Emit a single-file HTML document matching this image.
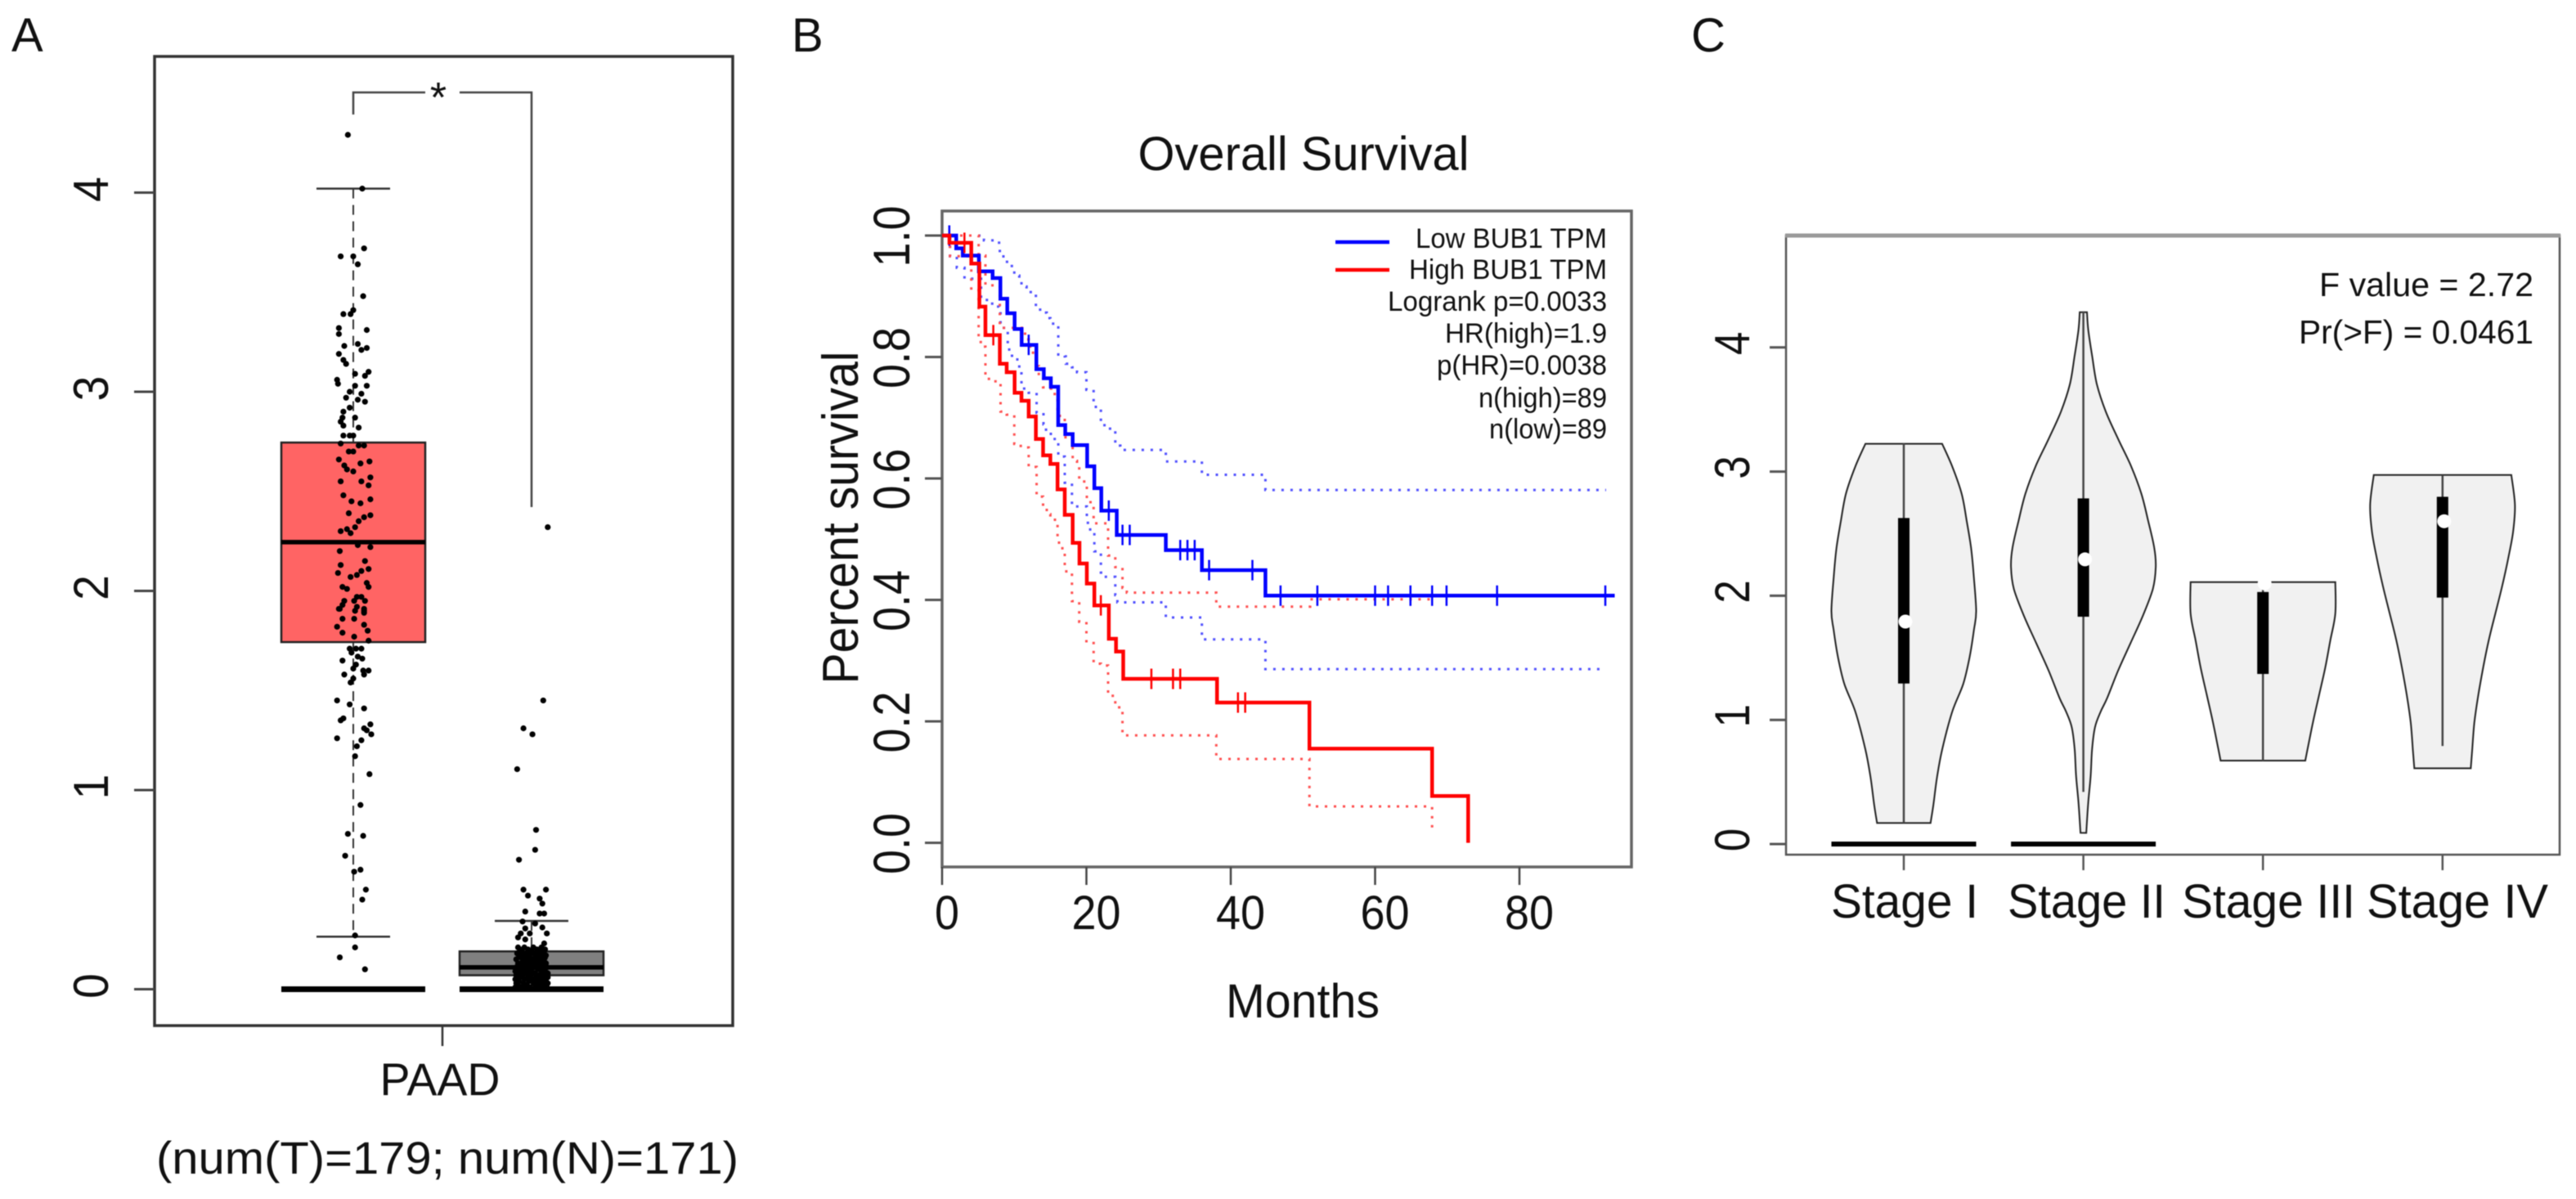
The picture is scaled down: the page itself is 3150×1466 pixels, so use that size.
<!DOCTYPE html>
<html lang="en">
<head>
<meta charset="utf-8">
<title>PAAD BUB1 expression, survival and stage plots</title>
<style>
  html, body { margin: 0; padding: 0; background: #fff; }
  svg { display: block; filter: blur(0.6px); }
  text { font-family: "Liberation Sans", sans-serif; fill: #111; }
</style>
</head>
<body>
<svg id="figure" xmlns="http://www.w3.org/2000/svg" width="3150" height="1466" viewBox="0 0 3150 1466">
  <rect x="0" y="0" width="3150" height="1466" fill="#fff"/>
  <text x="14" y="63" font-size="58">A</text>
  <text x="968" y="63" font-size="58">B</text>
  <text x="2068" y="63" font-size="58">C</text>

  <g id="panel-a">
    <rect x="189" y="69" width="707" height="1185" fill="#fff" stroke="#333" stroke-width="3.5"/>
    <path d="M432 140V113H520" fill="none" stroke="#444" stroke-width="2.5"/>
    <path d="M562 113H650V620" fill="none" stroke="#444" stroke-width="2.5"/>
    <text x="536" y="137" font-size="52" text-anchor="middle">*</text>
    <line x1="541" y1="1254" x2="541" y2="1279" stroke="#333" stroke-width="2.5"/>
    <text x="538" y="1339" font-size="56" text-anchor="middle" textLength="147" lengthAdjust="spacingAndGlyphs">PAAD</text>
    <text x="547" y="1435" font-size="56" text-anchor="middle" textLength="712" lengthAdjust="spacingAndGlyphs">(num(T)=179; num(N)=171)</text>
  </g>

  <g id="panel-b">
    <rect x="1152" y="258" width="843" height="802" fill="#fff" stroke="#666" stroke-width="3.5"/>
    <text x="1594" y="208" font-size="58" text-anchor="middle" textLength="405" lengthAdjust="spacingAndGlyphs">Overall Survival</text>
    <text transform="translate(1049,633) rotate(-90)" font-size="62" text-anchor="middle" textLength="407" lengthAdjust="spacingAndGlyphs">Percent survival</text>
    <text x="1593" y="1244" font-size="58" text-anchor="middle" textLength="188" lengthAdjust="spacingAndGlyphs">Months</text>
    <line x1="1633" y1="296" x2="1699" y2="296" stroke="#00f" stroke-width="4.5"/>
    <line x1="1633" y1="330" x2="1699" y2="330" stroke="#f00" stroke-width="4.5"/>
    <text x="1965" y="303" font-size="34" text-anchor="end" textLength="234" lengthAdjust="spacingAndGlyphs">Low BUB1 TPM</text>
    <text x="1965" y="341" font-size="34" text-anchor="end" textLength="242" lengthAdjust="spacingAndGlyphs">High BUB1 TPM</text>
    <text x="1965" y="380" font-size="34" text-anchor="end" textLength="268" lengthAdjust="spacingAndGlyphs">Logrank p=0.0033</text>
    <text x="1965" y="419" font-size="34" text-anchor="end" textLength="198" lengthAdjust="spacingAndGlyphs">HR(high)=1.9</text>
    <text x="1965" y="458" font-size="34" text-anchor="end" textLength="208" lengthAdjust="spacingAndGlyphs">p(HR)=0.0038</text>
    <text x="1965" y="498" font-size="34" text-anchor="end" textLength="157" lengthAdjust="spacingAndGlyphs">n(high)=89</text>
    <text x="1965" y="536" font-size="34" text-anchor="end" textLength="144" lengthAdjust="spacingAndGlyphs">n(low)=89</text>
  </g>

  <g id="panel-c">
    <rect x="2184" y="288" width="946" height="757" fill="#fff" stroke="#555" stroke-width="2.5"/>
    <line x1="2183" y1="288" x2="3131" y2="288" stroke="#999" stroke-width="5"/>
    <text x="3098" y="362" font-size="41" text-anchor="end" textLength="262" lengthAdjust="spacingAndGlyphs">F value = 2.72</text>
    <text x="3098" y="420" font-size="41" text-anchor="end" textLength="287" lengthAdjust="spacingAndGlyphs">Pr(&gt;F) = 0.0461</text>
  </g>
</svg>

<script>
/* ---------- Panel A data ---------- */
const boxTicks = [0, 1, 2, 3, 4];
const tumorStats = [0.264, 1.743, 2.245, 2.745, 4.02];
const normalStats = [0, 0.07, 0.11, 0.19, 0.343];
const tumorValues = [
  4.29,4.02,3.72,3.68,3.68,3.64,3.48,3.41,3.39,3.39,3.32,3.29,3.31,3.23,3.24,3.21,3.22,3.19,3.16,3.14,
  3.09,3.10,3.08,3.06,3.04,3.03,3.03,3.00,2.97,2.99,2.96,2.95,2.92,2.90,2.87,2.87,2.85,2.83,2.82,2.78,
  2.78,2.78,2.74,2.73,2.73,2.70,2.70,2.66,2.65,2.64,2.63,2.61,2.60,2.57,2.55,2.55,2.53,2.48,2.45,2.44,
  2.46,2.39,2.38,2.37,2.35,2.32,2.31,2.30,2.29,2.23,2.22,2.20,2.15,2.13,2.11,2.10,2.09,2.08,2.07,2.04,
  2.02,2.01,2.02,1.95,1.97,1.95,1.91,1.90,1.92,1.97,1.95,1.93,1.91,1.91,1.90,1.89,1.86,1.86,1.83,1.80,
  1.82,1.79,1.77,1.75,1.71,1.71,1.71,1.69,1.67,1.66,1.65,1.63,1.61,1.60,1.60,1.58,1.58,1.56,1.54,1.45,
  1.43,1.41,1.36,1.35,1.33,1.31,1.30,1.28,1.26,1.25,1.22,1.17,1.08,0.925,0.78,0.77,0.67,0.60,0.59,0.50,
  0.45,0.27,0.21,0.16,0.10
];
const tumorJitter = [
  -.3,.5,.6,-.7,0,.25,.55,0,-.15,-.55,-.8,-.8,.75,-.5,.25,.45,.75,-.8,-.55,-.4,
  .1,.85,.65,-.9,-.85,.1,.75,-.2,-.4,.45,.25,.65,-.2,-.55,-.6,.1,-.7,-.55,.3,-.55,
  -.2,0,-.7,.6,.3,-.25,0,-.8,.9,.4,-.5,-.35,0,.95,-.7,.45,.85,-.55,-.1,.4,
  .95,-.25,.95,.6,.3,.1,-.35,-.7,-.15,.25,.95,-.75,.65,-.7,.85,.45,-.85,.2,-.15,.75,
  -.6,-.35,.85,-.5,.45,.05,-.75,.6,.2,.2,.65,-.6,.6,-.8,.1,.6,-.6,.05,.6,.8,
  -.9,-.6,.05,.85,-.2,.15,.45,-.1,.25,.5,-.6,.15,0,.55,.85,-.5,.6,0,-.15,-.9,
  -.2,.6,-.55,-.7,.95,.6,.75,1,-.9,.45,.2,.1,.9,.4,-.3,.55,-.45,.4,.05,.7,
  .5,.1,.1,-.75,.65
];
const normalValues = [
  2.32,1.45,1.31,1.28,1.105,0.80,0.70,0.65,0.50,0.50,0.47,0.455,0.43,0.39,0.38,0.38,0.34,0.33,0.31,0.305,
  0.28,0.28,0.28,0.26,0.25,0.23,
  .21,.21,.21,.21,.20,.20,.20,.20,.19,.19,.19,.19,.18,.18,.18,.18,
  .17,.17,.17,.17,.17,.16,.16,.16,.16,.16,.15,.15,.15,.15,.15,.14,.14,.14,.14,
  .13,.13,.13,.13,.13,.12,.12,.12,.12,.11,.11,.11,.11,.11,.10,.10,.10,.10,
  .09,.09,.09,.09,.08,.08,.08,.08,.08,.07,.07,.07,.07,.07,.06,.06,.06,.06,.06,
  .05,.05,.05,.05,.05,.04,.04,.04,.04,.03,.03,.03,.03,.03,.02,.02,.02,.02,
  .01,.01,.01,.01,.01,.01
];
const normalJitter = [
  .9,.65,-.45,.05,-.8,.25,.2,-.7,-.45,.8,-.2,.45,.6,-.35,.45,.7,-.5,.2,.6,-.35,
  .85,-.6,-.1,-.75,-.35,.7,
  -.75,-.4,.1,.55,-.65,-.2,.3,.75,-.55,0,.45,.7,-.8,-.3,.15,.6,
  -.7,-.45,-.1,.35,.8,-.6,-.2,.2,.5,.75,-.85,-.35,.05,.4,.7,-.5,-.15,.25,.6,
  -.75,-.3,.1,.45,.8,-.6,-.05,.3,.65,-.85,-.4,.15,.5,.85,-.65,-.2,.35,.75,
  -.9,-.45,0,.55,-.7,-.25,.2,.65,.9,-.85,-.5,-.05,.4,.8,-.65,-.2,.25,.6,.9,
  -.9,-.4,.05,.45,.8,-.7,-.15,.3,.7,-.85,-.45,.1,.55,.9,-.75,-.25,.35,.75,
  -.9,-.5,-.1,.2,.6,.85
];

/* ---------- Panel B data ---------- */
const survivalYTicks = ["0.0", "0.2", "0.4", "0.6", "0.8", "1.0"];
const survivalXTicks = [0, 20, 40, 60, 80];
const blueTimes = [1.96,2.87,5.1,7,8.08,9.03,10.05,11.03,13.07,14.1,15.07,16.09,17.07,18.1,20.1,21.1,22.06,24.2,31,36,44.8];
const blueSurvival = [.979,.967,.941,.93,.896,.872,.846,.82,.78,.765,.751,.688,.673,.655,.62,.584,.547,.507,.482,.449,.407];
const blueEndMonth = 93.2;
const blueCensored = [1,12,23.1,25,26,33,34,35,37,43,46.9,52,60,61.8,64.9,67.9,69.9,76.9,91.9];
const redTimes = [1.02,4.04,5.17,6,8,8.95,10.05,11,12,13,14,15,16,17,18.1,19.04,20.06,21.1,23.1,24.1,25.1,38.1,50.9,67.9,72.9];
const redSurvival = [.988,.954,.883,.836,.789,.775,.741,.728,.702,.665,.638,.624,.582,.54,.494,.46,.427,.391,.336,.315,.27,.231,.155,.077,0];
const redEndMonth = 72.9;
const redCensored = [3.1,7.1,22,29,32,33,41,42];
const blueUpperTimes = [5.8,7.9,8,8.5,9,9.67,10,10.7,11,11.7,13,14,14.5,15,16.1,17,17.15,18,18.7,20,21,21.3,22,22.5,24,24.7,31,36,44.8];
const blueUpperSurvival = [.992,.985,.971,.961,.952,.945,.934,.926,.916,.907,.878,.873,.864,.855,.804,.801,.789,.783,.775,.746,.727,.715,.691,.682,.654,.647,.628,.606,.581];
const blueUpperEnd = 92;
const blueLowerTimes = [1.1,2.04,3.1,5.4,6.95,7.9,8.1,9.1,9.3,10,10.7,11,12,13.1,14.05,14.4,15.07,15.6,16.1,17,18,20.06,20.2,21.1,22,22.7,24,24.3,31,36,44.8];
const blueLowerSurvival = [.966,.947,.929,.894,.883,.878,.848,.815,.802,.796,.773,.748,.741,.708,.689,.678,.67,.661,.636,.593,.554,.529,.516,.48,.445,.438,.408,.396,.371,.335,.286];
const blueLowerEnd = 91.5;
const redUpperTimes = [4,5.06,6,7.4,8,11.5,12,12.2,13,13.4,14,15.07,15.6,16,16.3,17,17.1,18.1,18.7,19,20.06,21,23,24,25,25.6,38,51];
const redUpperSurvival = [1,.967,.918,.918,.848,.829,.818,.807,.785,.772,.75,.748,.737,.714,.703,.694,.665,.629,.62,.595,.561,.526,.473,.454,.42,.412,.389,.401];
const redUpperEnd = 67.9;
const redLowerTimes = [1.1,4.04,5.06,5.36,6,7,8.1,8.95,10,10.9,12,13.1,14,14.5,15,16,16.2,17,18,19,20,21,22,23,24,25,38,50.9,67.9];
const redLowerSurvival = [.966,.91,.829,.817,.764,.76,.71,.705,.657,.651,.619,.57,.551,.541,.532,.497,.485,.447,.398,.364,.329,.295,.292,.242,.223,.177,.138,.06,.02];
const redLowerEnd = 67.9;

/* ---------- Panel C data ---------- */
const violinYTicks = [0, 1, 2, 3, 4];
const stages = ["Stage I", "Stage II", "Stage III", "Stage IV"];
const stage1Levels = [.17,.32,.54,.76,1.067,1.287,1.506,1.726,1.88,2.165,2.385,2.60,2.82,3.04,3.224];
const stage1Density = [.37,.41,.46,.53,.67,.82,.91,.97,1,.966,.93,.87,.80,.67,.53];
const stage2Levels = [.09,.32,.54,.76,.94,1.067,1.177,1.397,1.616,1.836,2.055,2.23,2.385,2.604,2.824,3.043,3.263,3.483,3.70,3.92,4.14,4.284];
const stage2Density = [.04,.065,.1,.12,.16,.24,.33,.48,.65,.82,.96,1,.98,.895,.80,.66,.48,.31,.188,.124,.068,.05];
const stage3Levels = [.672,.76,.979,1.199,1.418,1.638,1.857,2.11];
const stage3Density = [.585,.615,.69,.775,.86,.93,1,1];
const stage4Levels = [.61,.76,.979,1.199,1.418,1.638,1.857,2.077,2.297,2.516,2.736,2.973];
const stage4Density = [.39,.41,.44,.494,.56,.637,.73,.824,.906,.975,1,.95];
const stageWhiskers = [[.17,3.23],[.42,4.29],[.67,2.11],[.79,2.97]];
const stageBoxes = [[1.293,2.626],[1.831,2.784],[1.37,2.03],[1.985,2.797]];
const stageMedians = [1.792,2.293,2.10,2.60];
const stageZeroGroups = [0, 1];

/* ---------- Shared ---------- */
const SVGNS = "http://www.w3.org/2000/svg";
function mk(parent, tag, attrs, text) {
  const el = document.createElementNS(SVGNS, tag);
  for (const k in attrs) el.setAttribute(k, attrs[k]);
  if (text !== undefined) el.textContent = text;
  parent.appendChild(el);
  return el;
}
function stepPath(times, surv, end, xf, yf, startX) {
  let d = "M" + xf(startX) + " " + yf(1);
  for (let i = 0; i < times.length; i++) {
    d += "H" + xf(times[i]).toFixed(1) + "V" + yf(surv[i]).toFixed(1);
  }
  return d + "H" + xf(end).toFixed(1);
}
function survivalAt(times, surv, t) {
  let s = 1;
  for (let i = 0; i < times.length; i++) if (times[i] <= t) s = surv[i];
  return s;
}

/* ---------- Panel A render ---------- */
const panelA = document.getElementById("panel-a");
const yBox = v => 1209.5 - 243.5 * v;
const BOX_CENTERS = { tumor: 432, normal: 650 };
const xBox = (group, offset) => BOX_CENTERS[group] + offset;

boxTicks.forEach(t => {
  const tick = mk(panelA, "line", { x1: 164, x2: 189, y1: yBox(t), y2: yBox(t), stroke: "#444", "stroke-width": 3 });
  
  
  const lab = mk(panelA, "text", { transform: `translate(132,${yBox(t) - 4}) rotate(-90) scale(.92,1)`, "font-size": 60, "text-anchor": "middle" }, String(t));
  
  
});

function drawBox(group, stats, fill, label) {
  const [lo, q1, med, q3, hi] = stats;
  const cx = xBox(group, 0);
  const whisk = mk(panelA, "path", {
    d: `M${cx} ${yBox(hi)}V${yBox(q3)}M${cx} ${yBox(q1)}V${yBox(lo)}`,
    fill: "none", stroke: "#333", "stroke-width": 2, "stroke-dasharray": "12 8"
  });
  
  
  [lo, hi].forEach(v => {
    const cap = mk(panelA, "line", { x1: cx - 45, x2: cx + 45, y1: yBox(v), y2: yBox(v), stroke: "#333", "stroke-width": 2.5 });
    
    
  });
  const rect = mk(panelA, "rect", { x: cx - 88, width: 176, y: yBox(q3), height: yBox(q1) - yBox(q3), fill: fill, stroke: "#222", "stroke-width": 2.5 });
  
  
  const medLine = mk(panelA, "line", { x1: cx - 88, x2: cx + 88, y1: yBox(med), y2: yBox(med), stroke: "#000", "stroke-width": 5.5 });
  
  
  const zero = mk(panelA, "line", { x1: cx - 88, x2: cx + 88, y1: yBox(0), y2: yBox(0), stroke: "#000", "stroke-width": 7 });
  
  
}
drawBox("tumor", tumorStats, "#ff6464", "tumor");
drawBox("normal", normalStats, "#808080", "normal");

function drawPoints(group, values, jitter, label) {
  values.forEach((v, i) => {
    const p = mk(panelA, "circle", { cx: xBox(group, jitter[i] * 22), cy: yBox(v), r: 3.6, fill: "#000" });
    
    
  });
}
drawPoints("tumor", tumorValues, tumorJitter, "tumor");
drawPoints("normal", normalValues, normalJitter, "normal");

/* ---------- Panel B render ---------- */
const panelB = document.getElementById("panel-b");
const xSurv = m => 1152 + 8.825 * m;
const ySurv = s => 1030.5 - 742.5 * s;

survivalYTicks.forEach(t => {
  const v = parseFloat(t);
  const tick = mk(panelB, "line", { x1: 1131, x2: 1152, y1: ySurv(v), y2: ySurv(v), stroke: "#555", "stroke-width": 3 });
  
  
  const lab = mk(panelB, "text", { transform: `translate(1112,${ySurv(v) + 1}) rotate(-90)`, "font-size": 63, "text-anchor": "middle", textLength: 75, lengthAdjust: "spacingAndGlyphs" }, t);
  
  
});
survivalXTicks.forEach(t => {
  const tick = mk(panelB, "line", { x1: xSurv(t), x2: xSurv(t), y1: 1060, y2: 1082, stroke: "#444", "stroke-width": 2.5 });
  
  
  const lab = mk(panelB, "text", { x: xSurv(t) + (t === 0 ? 6 : 12), y: 1136, "font-size": 58, "text-anchor": "middle", textLength: t === 0 ? 30 : 60, lengthAdjust: "spacingAndGlyphs" }, String(t));
  
  
});

[
  [blueUpperTimes, blueUpperSurvival, blueUpperEnd, "#5050ff", "blue-upper-ci"],
  [blueLowerTimes, blueLowerSurvival, blueLowerEnd, "#5050ff", "blue-lower-ci"],
  [redUpperTimes, redUpperSurvival, redUpperEnd, "#ff5050", "red-upper-ci"],
  [redLowerTimes, redLowerSurvival, redLowerEnd, "#ff5050", "red-lower-ci"]
].forEach(c => {
  const line = mk(panelB, "path", { d: stepPath(c[0], c[1], c[2], xSurv, ySurv, 0), fill: "none", stroke: c[3], "stroke-width": 3, "stroke-dasharray": "3 8" });
  
  
});

function drawCurve(times, surv, end, censored, color, label) {
  const curve = mk(panelB, "path", { d: stepPath(times, surv, end, xSurv, ySurv, 0), fill: "none", stroke: color, "stroke-width": 4.5 });
  
  
  censored.forEach(t => {
    const y = ySurv(survivalAt(times, surv, t));
    const mark = mk(panelB, "line", { x1: xSurv(t), x2: xSurv(t), y1: y - 12.5, y2: y + 12.5, stroke: color, "stroke-width": 2.5 });
    
    
  });
}
drawCurve(blueTimes, blueSurvival, blueEndMonth, blueCensored, "#0000ff", "low-bub1");
drawCurve(redTimes, redSurvival, redEndMonth, redCensored, "#ff0000", "high-bub1");

/* ---------- Panel C render ---------- */
const panelC = document.getElementById("panel-c");
const yViolin = v => 1032 - 151.8 * v;
const xViolin = i => 2328 + 219.6 * i;
const VIOLIN_HALF = 88.5;
const stageLabelSpans = [[2239, 2419], [2455, 2648], [2668, 2880], [2894, 3116]];

violinYTicks.forEach(t => {
  const tick = mk(panelC, "line", { x1: 2164, x2: 2184, y1: yViolin(t), y2: yViolin(t), stroke: "#555", "stroke-width": 3 });
  
  
  const lab = mk(panelC, "text", { transform: `translate(2139,${yViolin(t) - 5}) rotate(-90) scale(.85,1)`, "font-size": 60, "text-anchor": "middle" }, String(t));
  
  
});

function smoothSide(pts) {
  let d = "";
  for (let i = 0; i < pts.length - 1; i++) {
    const p0 = pts[Math.max(i - 1, 0)], p1 = pts[i], p2 = pts[i + 1], p3 = pts[Math.min(i + 2, pts.length - 1)];
    const c1x = p1[0] + (p2[0] - p0[0]) / 6, c1y = p1[1] + (p2[1] - p0[1]) / 6;
    const c2x = p2[0] - (p3[0] - p1[0]) / 6, c2y = p2[1] - (p3[1] - p1[1]) / 6;
    d += `C${c1x.toFixed(1)} ${c1y.toFixed(1)} ${c2x.toFixed(1)} ${c2y.toFixed(1)} ${p2[0].toFixed(1)} ${p2[1].toFixed(1)}`;
  }
  return d;
}

const stageLevelSets = [stage1Levels, stage2Levels, stage3Levels, stage4Levels];
const stageDensitySets = [stage1Density, stage2Density, stage3Density, stage4Density];

stages.forEach((name, i) => {
  const cx = xViolin(i);
  const levels = stageLevelSets[i], dens = stageDensitySets[i];
  const right = levels.map((v, k) => [cx + dens[k] * VIOLIN_HALF, yViolin(v)]);
  const left = levels.map((v, k) => [cx - dens[k] * VIOLIN_HALF, yViolin(v)]).reverse();
  const d = `M${right[0][0]} ${right[0][1]}` + smoothSide(right) + `L${left[0][0]} ${left[0][1]}` + smoothSide(left) + "Z";
  const body = mk(panelC, "path", { d: d, fill: "#f1f1f1", stroke: "#222", "stroke-width": 2, "stroke-linejoin": "miter" });
  
  

  const whisker = mk(panelC, "line", { x1: cx, x2: cx, y1: yViolin(stageWhiskers[i][0]), y2: yViolin(stageWhiskers[i][1]), stroke: "#444", "stroke-width": 2.5 });
  
  
  const box = mk(panelC, "rect", { x: cx - 7, width: 14, y: yViolin(stageBoxes[i][1]), height: yViolin(stageBoxes[i][0]) - yViolin(stageBoxes[i][1]), fill: "#000" });
  
  
  const med = mk(panelC, "circle", { cx: cx + 2, cy: yViolin(stageMedians[i]), r: 8.5, fill: "#fff" });
  
  

  const tick = mk(panelC, "line", { x1: cx, x2: cx, y1: 1045, y2: 1064, stroke: "#555", "stroke-width": 2.5 });
  
  
  const span = stageLabelSpans[i];
  const lab = mk(panelC, "text", { x: (span[0] + span[1]) / 2, y: 1122, "font-size": 58, "text-anchor": "middle", textLength: span[1] - span[0], lengthAdjust: "spacingAndGlyphs" }, name);
  
  
});

stageZeroGroups.forEach(i => {
  const zero = mk(panelC, "line", { x1: xViolin(i) - VIOLIN_HALF, x2: xViolin(i) + VIOLIN_HALF, y1: yViolin(0), y2: yViolin(0), stroke: "#000", "stroke-width": 6 });
  
  
});
</script>
</body>
</html>
